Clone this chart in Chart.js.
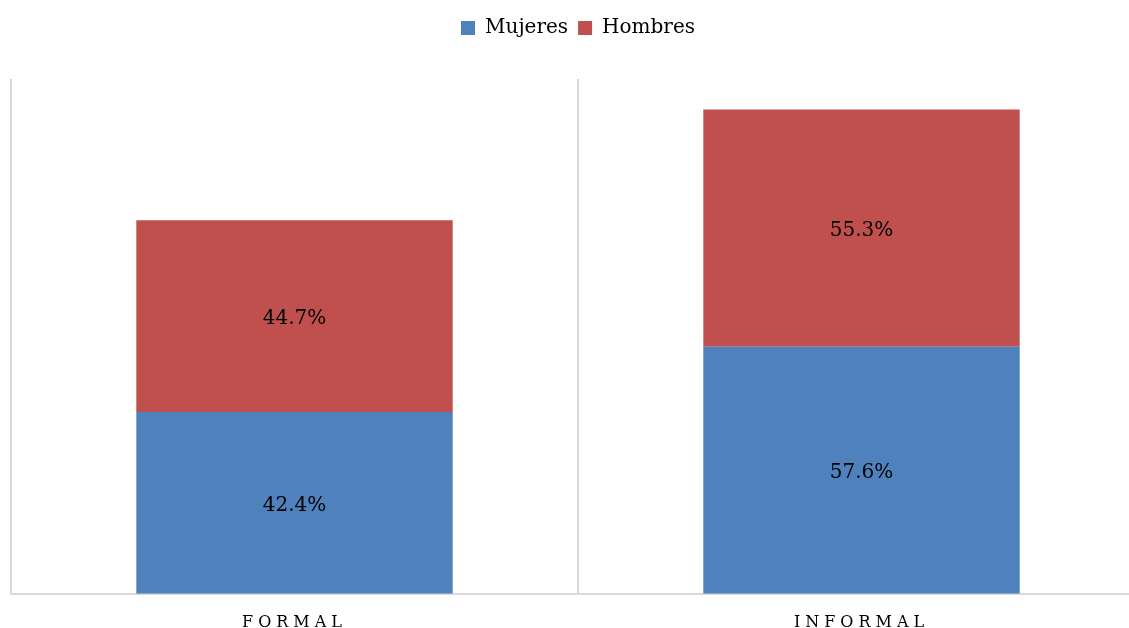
<!DOCTYPE html>
<html lang="es">
<head>
  <meta charset="UTF-8"/>
  <title>Formal / Informal por sexo</title>
  <script src="https://cdn.jsdelivr.net/npm/chart.js"></script>
  <style>
    html, body { margin: 0; padding: 0; background: #fff; overflow: hidden; }
    /* plot runs a bit past the window on the right, as in the original */
    .chart-box { width: 1146px; height: 651px; position: relative; }
  </style>
</head>
<body>
  <div class="chart-box">
    <canvas id="stackChart"></canvas>
  </div>
  <script>
    const categories = ["FORMAL", "INFORMAL"];
    const mujeres = [42.4, 57.6];
    const hombres = [44.7, 55.3];
    const FONT = "'DejaVu Serif', serif";

    // adds room under the legend, like the original spacing
    const legendGap = {
      id: "legendGap",
      beforeInit(chart) {
        const fit = chart.legend.fit;
        chart.legend.fit = function () {
          fit.call(this);
          this.height += 31;
        };
      }
    };

    // writes the percentages inside each segment, then spaces out the axis letters
    const segmentLabels = {
      id: "segmentLabels",
      afterDatasetsDraw(chart) {
        const ctx = chart.ctx;
        ctx.save();
        ctx.font = "20px " + FONT;
        ctx.fillStyle = "#000";
        ctx.textAlign = "center";
        ctx.textBaseline = "middle";
        chart.data.datasets.forEach((ds, i) => {
          chart.getDatasetMeta(i).data.forEach((bar, j) => {
            const y = (bar.y + bar.base) / 2 + 3;
            ctx.fillText(ds.data[j].toFixed(1) + "%", bar.x, y);
          });
        });
        ctx.restore();
        ctx.letterSpacing = "5px";
      },
      afterDraw(chart) {
        chart.ctx.letterSpacing = "0px";
      }
    };

    new Chart(document.getElementById("stackChart"), {
      type: "bar",
      data: {
        labels: categories,
        datasets: [
          { label: "Mujeres", data: mujeres, backgroundColor: "#4F81BD" },
          { label: "Hombres", data: hombres, backgroundColor: "#C0504D" }
        ]
      },
      options: {
        responsive: true,
        maintainAspectRatio: false,
        animation: false,
        categoryPercentage: 1,
        barPercentage: 0.558,
        layout: { padding: { left: 11, right: 1, top: 8, bottom: 0 } },
        plugins: {
          legend: {
            labels: {
              font: { family: FONT, size: 20 },
              color: "#000",
              boxWidth: 14,
              boxHeight: 14,
              padding: 10
            }
          },
          tooltip: { enabled: false }
        },
        scales: {
          x: {
            stacked: true,
            grid: { color: "#d9d9d9", lineWidth: 2, drawTicks: false },
            border: { color: "#d9d9d9", width: 2 },
            ticks: { font: { family: FONT, size: 16 }, color: "#000", padding: 19, z: 1 }
          },
          y: {
            stacked: true,
            display: false,
            min: 0,
            max: 120
          }
        }
      },
      plugins: [legendGap, segmentLabels]
    });
  </script>
</body>
</html>
